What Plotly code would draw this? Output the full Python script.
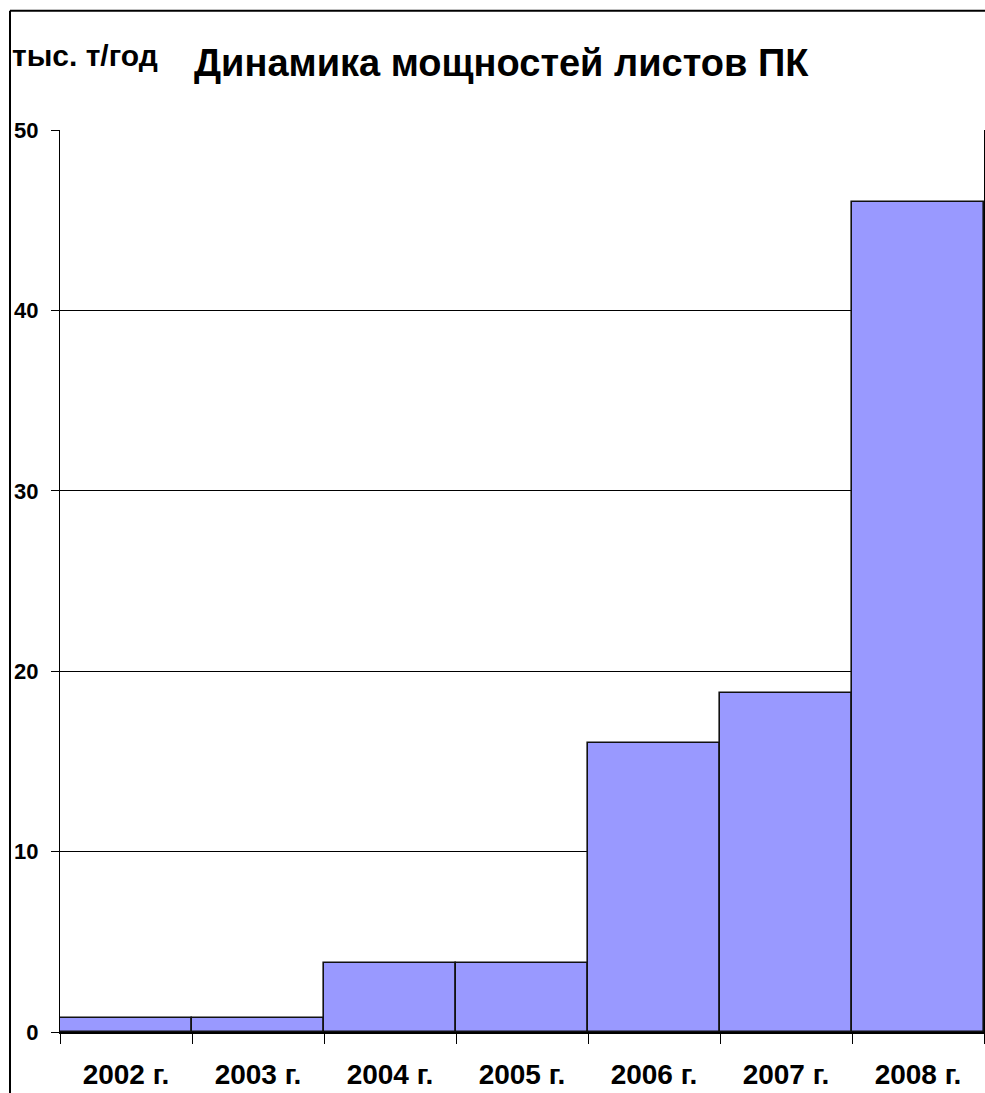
import plotly.graph_objects as go

categories = ["2002 г.", "2003 г.", "2004 г.", "2005 г.", "2006 г.", "2007 г.", "2008 г."]
values = [0.8, 0.8, 3.8, 3.8, 16.0, 18.8, 46.0]
y_ticks = [0, 10, 20, 30, 40, 50]
title_text = "Динамика мощностей листов ПК"
unit_text = "тыс. т/год"

W, H = 985, 1093
L, R, T, B = 60, 984, 130, 1031.7


def px_x(px):
    return (px - L) / (R - L)


def px_y(py):
    return (B - py) / (B - T)


FONT = "Liberation Sans, Arial, sans-serif"

fig = go.Figure()
fig.add_trace(go.Bar(
    x=categories, y=values,
    marker=dict(color="#9999FF", line=dict(color="#111111", width=1.6)),
    width=1.0,
))

fig.update_layout(
    width=W, height=H,
    margin=dict(l=L, r=W - R, t=T, b=H - B, pad=0),
    paper_bgcolor="white", plot_bgcolor="white",
    bargap=0, showlegend=False,
    font=dict(family=FONT, color="black"),
    xaxis=dict(
        type="category", showgrid=False, showline=True, linecolor="black", linewidth=2,
        ticks="outside", tickson="boundaries", ticklen=10, tickcolor="black", tickwidth=1,
        tickfont=dict(family=FONT, size=28, color="black", weight="bold"),
        ticklabelstandoff=16,
        range=[-0.5, 6.5], fixedrange=True,
    ),
    yaxis=dict(
        range=[0, 50], tickvals=y_ticks, showgrid=True, gridcolor="black", gridwidth=1.3,
        showline=True, linecolor="black", linewidth=1.3, mirror=True,
        ticks="outside", ticklen=8, tickcolor="black", tickwidth=1,
        tickfont=dict(family=FONT, size=22, color="black", weight="bold"),
        ticklabelstandoff=8, zeroline=False, fixedrange=True,
    ),
    annotations=[
        dict(text=title_text, x=px_x(501), y=px_y(63), xref="paper", yref="paper",
             showarrow=False, xanchor="center", yanchor="middle",
             font=dict(family=FONT, size=38, color="black", weight="bold")),
        dict(text=unit_text, x=px_x(10), y=px_y(56), xref="paper", yref="paper",
             showarrow=False, xanchor="left", yanchor="middle",
             font=dict(family=FONT, size=30, color="black", weight="bold")),
    ],
    shapes=[
        dict(type="line", xref="paper", yref="paper", x0=px_x(10), x1=px_x(W + 5),
             y0=px_y(10.7), y1=px_y(10.7), line=dict(color="black", width=2)),
        dict(type="line", xref="paper", yref="paper", x0=px_x(10), x1=px_x(10),
             y0=px_y(10.7), y1=px_y(H + 5), line=dict(color="black", width=2)),
    ],
)

fig.write_html(
    "out.html",
    config={"displayModeBar": False},
    post_script="document.body.style.margin='0';document.body.style.overflow='hidden';",
)
